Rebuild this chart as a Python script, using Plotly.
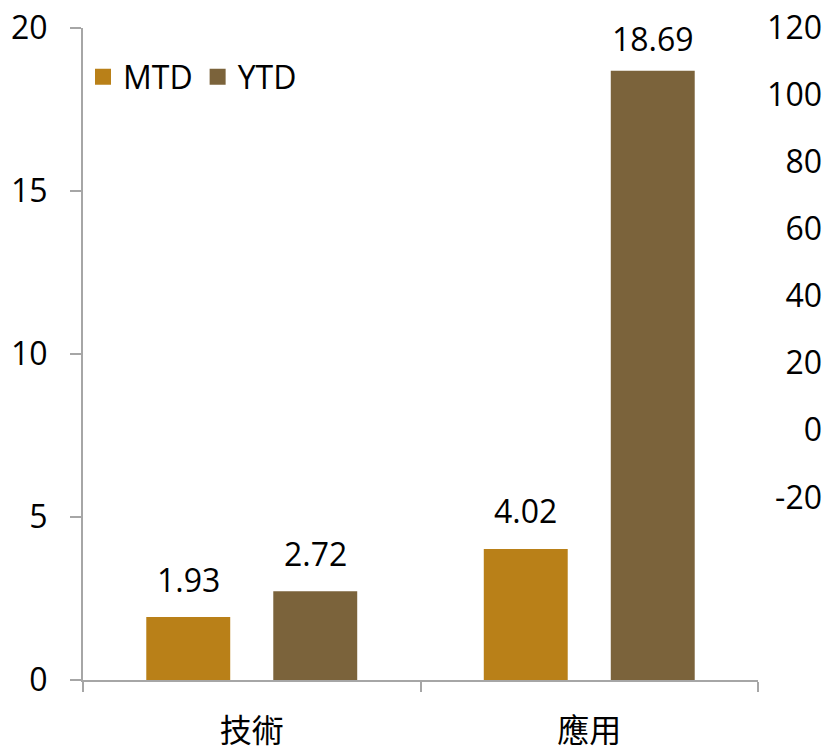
import plotly.graph_objects as go

categories = ["技術", "應用"]
mtd_values = [1.93, 4.02]
ytd_values = [2.72, 18.69]
left_ticks = [0, 5, 10, 15, 20]
right_ticks = [-20, 0, 20, 40, 60, 80, 100, 120]

FONT = "Open Sans, Noto Sans CJK TC, sans-serif"
AXIS_COLOR = "#A6A6A6"
MTD_COLOR = "#B98018"
YTD_COLOR = "#7B633B"
FS = 32

W, H = 825, 747
ml, mr, mt, mb = 83, 3, 28, 67
plot_w = W - ml - mr
plot_h = H - mt - mb
x_end = 675 / plot_w
y_max = 20
bargap, bargroupgap = 0.2474, 0.339
cat_px = 675 / len(categories)
slot_px = cat_px * (1 - bargap) / 2

fig = go.Figure()
fig.add_trace(go.Bar(name="MTD", x=categories, y=mtd_values,
                     marker=dict(color=MTD_COLOR, line=dict(width=0)),
                     showlegend=False, hoverinfo="x+y"))
fig.add_trace(go.Bar(name="YTD", x=categories, y=ytd_values,
                     marker=dict(color=YTD_COLOR, line=dict(width=0)),
                     showlegend=False, hoverinfo="x+y"))
# legend proxies with larger square symbols
for name, col in [("MTD", MTD_COLOR), ("YTD", YTD_COLOR)]:
    fig.add_trace(go.Scatter(x=[None], y=[None], mode="markers", name=name,
                             marker=dict(symbol="square", size=20, color=col, line=dict(width=0))))
fig.add_trace(go.Scatter(x=[], y=[], yaxis="y2", showlegend=False, hoverinfo="skip"))

# data labels above bars, kept inside the plot area near the top (like Excel)
annotations = []
for vals, sign in [(mtd_values, -1), (ytd_values, 1)]:
    for c, v in zip(categories, vals):
        room = (y_max - v) / y_max * plot_h - 10
        annotations.append(dict(x=c, y=v, xref="x", yref="y", text=f"{v:.2f}",
                                showarrow=False, xanchor="center", yanchor="middle",
                                xshift=sign * slot_px / 2, yshift=min(38, room),
                                font=dict(size=FS, family=FONT, color="#000000")))

fig.update_layout(
    width=W, height=H,
    margin=dict(l=ml, r=mr, t=mt, b=mb, autoexpand=False),
    paper_bgcolor="white", plot_bgcolor="white",
    font=dict(family=FONT, size=FS, color="#000000"),
    barmode="group", bargap=bargap, bargroupgap=bargroupgap,
    showlegend=True,
    legend=dict(orientation="h", x=0.0, xanchor="left", y=0.925, yanchor="middle",
                font=dict(size=FS, family=FONT), bgcolor="rgba(0,0,0,0)",
                itemwidth=30, traceorder="normal"),
    annotations=annotations,
    xaxis=dict(domain=[0, x_end], type="category", automargin=False,
               showline=True, linecolor=AXIS_COLOR, linewidth=2,
               ticks="outside", tickson="boundaries", ticklen=10, tickcolor=AXIS_COLOR, tickwidth=2,
               showgrid=False, tickfont=dict(size=FS, family=FONT), ticklabelstandoff=22,
               ticklabeloverflow="allow"),
    yaxis=dict(range=[0, y_max], tickvals=left_ticks, automargin=False,
               showline=True, linecolor=AXIS_COLOR, linewidth=2,
               ticks="outside", ticklen=11, tickcolor=AXIS_COLOR, tickwidth=2,
               showgrid=False, zeroline=False, tickfont=dict(size=FS, family=FONT),
               ticklabelstandoff=16, ticklabeloverflow="allow"),
    yaxis2=dict(overlaying="y", anchor="free", position=1.0, side="left", automargin=False,
                range=[-74.5, 120], tickvals=right_ticks,
                ticktext=[str(v) for v in right_ticks],
                showline=False, showgrid=False, zeroline=False, ticks="",
                tickfont=dict(size=FS, family=FONT), ticklabeloverflow="allow"),
)

fig.write_html("out.html", config={"displayModeBar": False},
               post_script="document.body.style.margin='0';")
